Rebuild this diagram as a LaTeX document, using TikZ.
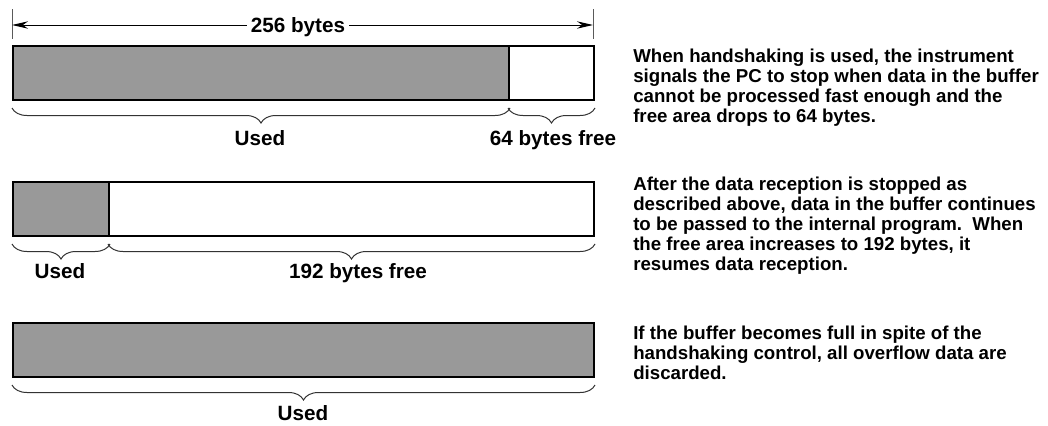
\documentclass[tikz,border=0pt]{standalone}
\usepackage{fontspec}
\setmainfont{Liberation Sans}
\usetikzlibrary{arrows.meta,decorations.pathreplacing}
\definecolor{usedgray}{RGB}{153,153,153}
\definecolor{tickgray}{RGB}{90,90,90}
\begin{document}
\begin{tikzpicture}[x=0.75pt,y=-0.75pt,
  seg/.style={draw=black, line width=1.5pt, inner sep=0pt, anchor=north west, minimum height=40.5pt},
  usedseg/.style={seg, fill=usedgray},
  freeseg/.style={seg, fill=white},
  lbl/.style={font=\bfseries\fontsize{15.5}{18}\selectfont, anchor=base, inner sep=0pt},
  para/.style={font=\bfseries\fontsize{14}{15}\selectfont, anchor=north west, align=left, inner sep=0pt},
  bracelike/.style={decorate, decoration={brace, mirror, amplitude=11.25pt, raise=5.25pt}, line width=0.75pt, draw=black!80},
  tick/.style={draw=tickgray, line width=0.75pt},
  dimarrow/.style={line width=0.75pt, {Stealth[length=12pt,width=5.5pt]}-{Stealth[length=12pt,width=5.5pt]}}
]
\useasboundingbox (0,0) rectangle (1048,425);

% dimension line
\coordinate (t1a) at (12,9);  \coordinate (t1b) at (12,39);
\coordinate (t2a) at (593,9); \coordinate (t2b) at (593,39);
\draw[tick] (t1a) -- (t1b);
\draw[tick] (t2a) -- (t2b);
\coordinate (dl) at (12,25); \coordinate (dr) at (593,25);
\draw[dimarrow] (dl) -- (dr);
\node[lbl, fill=white, inner xsep=3pt] (dim) at (298,32) {256 bytes};

% bar 1
\node[usedseg, minimum width=372pt] (u1) at (12,45) {};
\node[freeseg, minimum width=63.75pt] (f1) at (508,45) {};
\draw[bracelike] (u1.south west) -- (u1.south east);
\draw[bracelike] (f1.south west) -- (f1.south east);
\node[lbl] (lu1) at (260,145) {Used};
\node[lbl] (lf1) at (553,145) {64 bytes free};

% bar 2
\node[usedseg, minimum width=72pt] (u2) at (12,181) {};
\node[freeseg, minimum width=363.75pt] (f2) at (108,181) {};
\draw[bracelike] (u2.south west) -- (u2.south east);
\draw[bracelike] (f2.south west) -- (f2.south east);
\node[lbl] (lu2) at (60,278) {Used};
\node[lbl] (lf2) at (358,278) {192 bytes free};

% bar 3
\node[usedseg, minimum width=435.75pt] (u3) at (12,322) {};
\draw[bracelike] (u3.south west) -- (u3.south east);
\node[lbl] (lu3) at (303,420) {Used};

% descriptions
\node[para] (p1) at (633,49) {When handshaking is used, the instrument\\signals the PC to stop when data in the buffer\\cannot be processed fast enough and the\\free area drops to 64 bytes.};
\node[para] (p2) at (633,177) {After the data reception is stopped as\\described above, data in the buffer continues\\to be passed to the internal program.\ \ When\\the free area increases to 192 bytes, it\\resumes data reception.};
\node[para] (p3) at (633,326) {If the buffer becomes full in spite of the\\handshaking control, all overflow data are\\discarded.};
\end{tikzpicture}
\end{document}
